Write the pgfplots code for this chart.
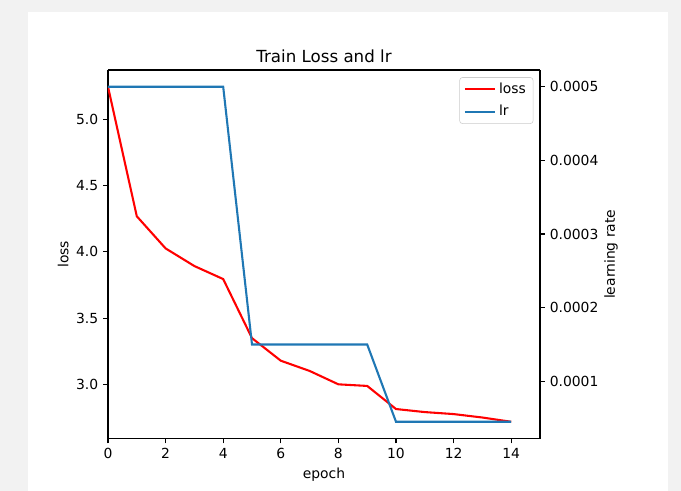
\documentclass[border=0pt]{standalone}
\usepackage{fontspec}
\setmainfont{DejaVu Sans}
\usepackage{pgfplots}
\pgfplotsset{compat=1.18}
\definecolor{bgray}{HTML}{F2F2F2}
\definecolor{mplblue}{HTML}{1F77B4}
\definecolor{legedge}{HTML}{CCCCCC}
\begin{document}
\begin{tikzpicture}
\path[use as bounding box, fill=bgray] (-77.76pt,-37.8pt) rectangle (412.56pt,315.72pt);
\fill[white] (-57.6pt,-37.8pt) rectangle (403.2pt,307.08pt);
\pgfplotsset{
  myaxis/.style={
    at={(0,0)}, anchor=south west,
    scale only axis, width=311.04pt, height=265.32pt,
    xmin=0, xmax=15,
    tick align=outside, major tick length=3.5pt,
    tick style={black, line width=0.8pt},
    axis line style={line width=0.8pt},
    every tick label/.append style={font=\fontsize{10}{12}\selectfont},
    label style={font=\fontsize{10}{12}\selectfont},
    /pgf/number format/assume math mode=true,
  }
}
\begin{axis}[myaxis,
    axis y line*=left, axis x line*=bottom,
    ymin=2.594, ymax=5.37,
    xtick={0,2,...,14},
    ytick={3.0,3.5,4.0,4.5,5.0},
    yticklabel style={/pgf/number format/.cd, fixed, fixed zerofill, precision=1},
    xlabel={epoch}, ylabel={loss},
    ylabel shift=-1.5pt,
    title={Train Loss and lr},
    title style={font=\fontsize{12}{14}\selectfont, yshift=-4.5pt},
]
\addplot[red, line width=1.5pt] coordinates {
  (0,5.244) (1,4.268) (2,4.026) (3,3.893) (4,3.795) (5,3.35) (6,3.18)
  (7,3.103) (8,3.002) (9,2.99) (10,2.816) (11,2.793) (12,2.778) (13,2.752) (14,2.72)
};
\draw[line width=0.8pt] (rel axis cs:0,1) -- (rel axis cs:1,1);
\end{axis}
\begin{axis}[myaxis,
    axis y line*=right, axis x line=none,
    ymin=0.0000223, ymax=0.0005228,
    ytick={0.0001,0.0002,0.0003,0.0004,0.0005},
    scaled y ticks=false,
    yticklabel style={/pgf/number format/.cd, fixed, fixed zerofill, precision=4},
    ylabel={learning rate},
    ylabel shift=-2.5pt,
    legend style={at={(rel axis cs:1,1)}, anchor=north east, xshift=-4.8pt, yshift=-5.2pt,
      draw=legedge, rounded corners=2pt, fill=white, fill opacity=0.8, text opacity=1,
      font=\fontsize{10}{12}\selectfont, row sep=3pt,
      nodes={inner xsep=2.2pt}},
    legend cell align=left,
    legend image code/.code={\draw[#1] (0pt,0pt) -- (21.6pt,0pt);},
]
\addlegendimage{red, line width=1.5pt}
\addlegendentry{loss}
\addplot[mplblue, line width=1.5pt] coordinates {
  (0,0.0005) (1,0.0005) (2,0.0005) (3,0.0005) (4,0.0005)
  (5,0.00015) (6,0.00015) (7,0.00015) (8,0.00015) (9,0.00015)
  (10,0.000045) (11,0.000045) (12,0.000045) (13,0.000045) (14,0.000045)
};
\addlegendentry{lr}
\end{axis}
\end{tikzpicture}
\end{document}
